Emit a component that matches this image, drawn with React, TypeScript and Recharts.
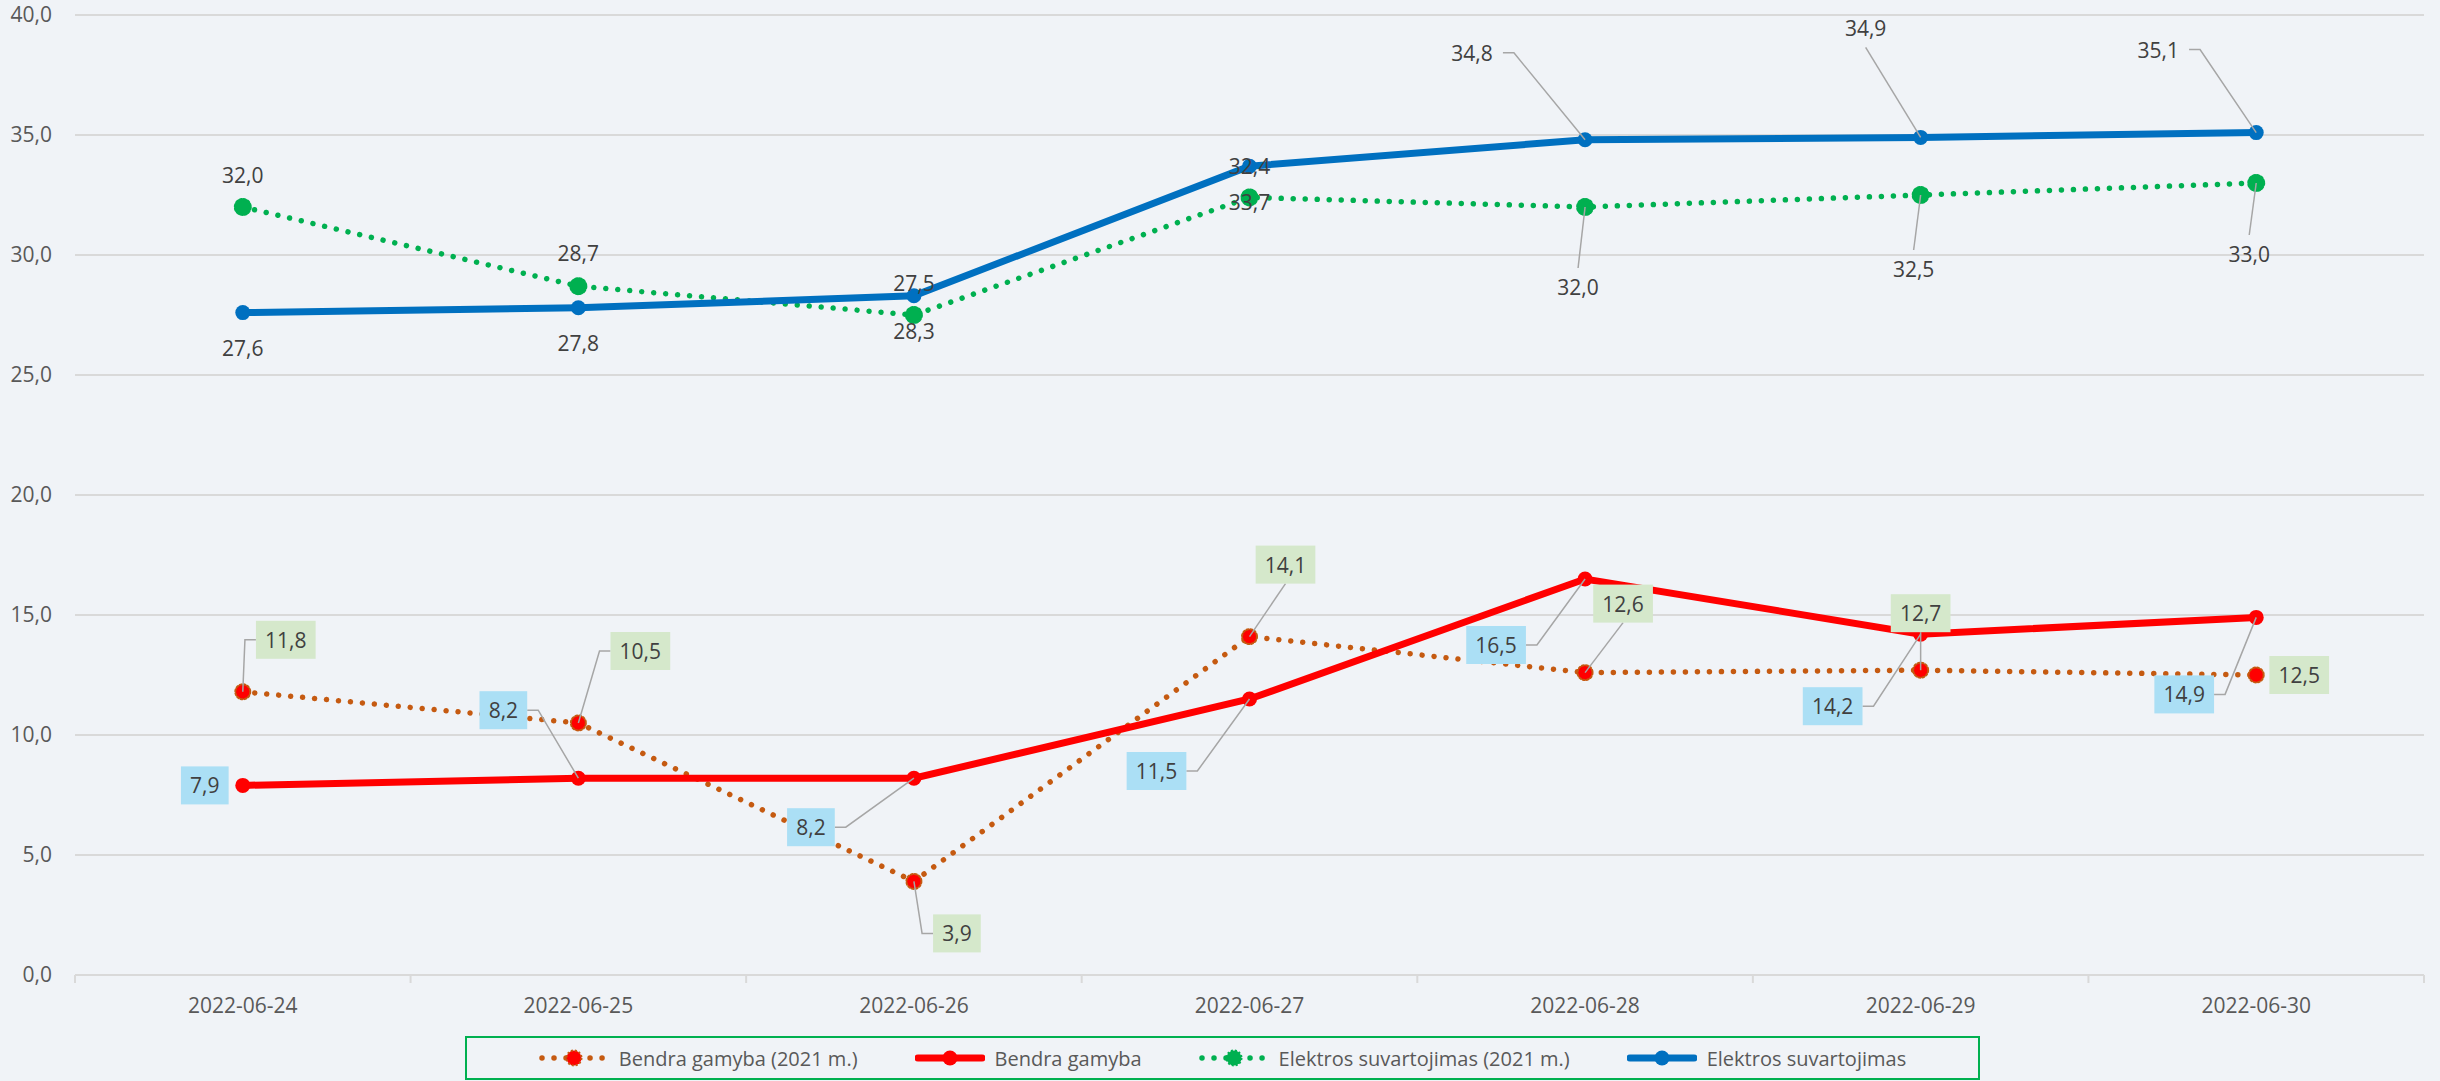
import React from "react"
import { CartesianGrid, Legend, Line, LineChart, XAxis, YAxis } from "recharts"

const dates = ["2022-06-24", "2022-06-25", "2022-06-26", "2022-06-27", "2022-06-28", "2022-06-29", "2022-06-30"]
const bendra2021 = [11.8, 10.5, 3.9, 14.1, 12.6, 12.7, 12.5]
const bendra = [7.9, 8.2, 8.2, 11.5, 16.5, 14.2, 14.9]
const elektros2021 = [32.0, 28.7, 27.5, 32.4, 32.0, 32.5, 33.0]
const elektros = [27.6, 27.8, 28.3, 33.7, 34.8, 34.9, 35.1]
const yTicks = [0, 5, 10, 15, 20, 25, 30, 35, 40]

const data = dates.map((d, i) => ({
  i,
  date: d,
  bendra2021: bendra2021[i],
  bendra: bendra[i],
  elektros2021: elektros2021[i],
  elektros: elektros[i],
}))

// boundaries between days get a small tick, centers get the date
const xTicks = [-0.5, ...dates.flatMap((_, i) => [i, i + 0.5])]

const FONT = "'Open Sans', sans-serif"
const BG = "#f0f3f7"
const LEADER = "#a6a6a6"

const fmt = (v: number) => v.toFixed(1).replace(".", ",")

// label placement: [dx, dy, leader]  n = none, h = stub + diagonal, v = straight from edge
type Place = [number, number, "n" | "h" | "v"]

const placeBendra2021: Place[] = [[43, -52, "h"], [62, -72, "h"], [43, 52, "h"], [36, -72, "v"], [38, -69, "v"], [0, -57, "v"], [43, 0, "n"]]
const placeBendra: Place[] = [[-38, 0, "n"], [-75, -68, "h"], [-103, 49, "h"], [-93, 72, "h"], [-89, 66, "h"], [-88, 72, "h"], [-72, 77, "h"]]
const placeElektros2021: Place[] = [[0, -32, "n"], [0, -33, "n"], [0, -32, "n"], [0, -31, "n"], [-7, 80, "v"], [-7, 74, "v"], [-7, 71, "v"]]
const placeElektros: Place[] = [[0, 35, "n"], [0, 35, "n"], [0, 35, "n"], [0, 36, "n"], [-113, -87, "h"], [-55, -109, "v"], [-98, -83, "h"]]

function textWidth(s: string) {
  let w = 0
  for (const c of s) w += c === "," ? 5.7 : 12
  return w
}

function makeLabel(places: Place[], values: number[], box?: string) {
  return (props: any) => {
    const x = props.x ?? props.viewBox?.x
    const y = props.y ?? props.viewBox?.y
    let idx = props.index
    if (idx === undefined) idx = values.indexOf(props.value)
    const p = places[idx]
    if (!p || x === undefined || y === undefined) return null
    const text = fmt(Number(props.value))
    const tw = textWidth(text)
    const w = box ? tw + 18 : tw + 4
    const h = box ? 38 : 24
    const cx = x + p[0]
    const cy = y + p[1]
    let d: string | null = null
    if (p[2] === "h") {
      const side = p[0] < 0 ? 1 : -1
      const ex = cx + side * (w / 2 + (box ? 0 : 8))
      const sx = ex + side * 11
      d = `M${ex},${cy}L${sx},${cy}L${x},${y}`
    } else if (p[2] === "v") {
      const s = p[1] < 0 ? 1 : -1
      const ey = cy + s * (h / 2 + (box ? 0 : 7))
      d = `M${cx},${ey}L${x},${y}`
    }
    return (
      <g>
        {d && <path d={d} stroke={LEADER} strokeWidth={1.5} fill="none" />}
        {box && <rect x={cx - w / 2} y={cy - h / 2} width={w} height={h} fill={box} />}
        <text x={cx} y={cy} textAnchor="middle" dominantBaseline="central" fontSize={21} fontFamily={FONT} fill="#404040">
          {text}
        </text>
      </g>
    )
  }
}

function XTick(props: any) {
  const { x, y, payload } = props
  const v = payload.value
  if (Number.isInteger(v)) {
    return (
      <text x={x} y={y + 38} textAnchor="middle" fontSize={21} fontFamily={FONT} fill="#595959">
        {dates[v]}
      </text>
    )
  }
  return <line x1={x} x2={x} y1={y} y2={y + 8} stroke="#d9d9d9" strokeWidth={2} />
}

const series = [
  { name: "Bendra gamyba (2021 m.)", color: "#c55a11", dotFill: "#ff0000", dotted: true },
  { name: "Bendra gamyba", color: "#ff0000", dotFill: "#ff0000", dotted: false },
  { name: "Elektros suvartojimas (2021 m.)", color: "#00b050", dotFill: "#00b050", dotted: true },
  { name: "Elektros suvartojimas", color: "#0070c0", dotFill: "#0070c0", dotted: false },
]

function LegendBox() {
  return (
    <div
      style={{
        marginLeft: 465,
        width: 1515,
        height: 44,
        boxSizing: "border-box",
        border: "2px solid #00b050",
        display: "flex",
        alignItems: "center",
        justifyContent: "center",
        gap: 57,
        fontFamily: FONT,
        fontSize: 20,
        color: "#595959",
      }}
    >
      {series.map((s) => (
        <div key={s.name} style={{ display: "flex", alignItems: "center", gap: 10 }}>
          <svg width={70} height={20}>
            <line
              x1={3}
              x2={67}
              y1={10}
              y2={10}
              stroke={s.color}
              strokeWidth={s.dotted ? 5.5 : 7}
              strokeLinecap="round"
              strokeDasharray={s.dotted ? "0.01 12" : undefined}
            />
            <circle cx={35} cy={10} r={7.5} fill={s.dotFill} stroke={s.color} strokeWidth={s.dotted ? 2 : 0} strokeDasharray={s.dotted ? "2 2" : undefined} />
          </svg>
          <span>{s.name}</span>
        </div>
      ))}
    </div>
  )
}

export default function App() {
  return (
    <div style={{ position: "absolute", left: 0, top: 0, width: 2440, height: 1081, background: BG }}>
      <LineChart width={2440} height={1081} data={data} margin={{ top: 15, right: 16, bottom: 1, left: 0 }}>
        <CartesianGrid vertical={false} stroke="#d9d9d9" strokeWidth={2} />
        <XAxis
          dataKey="i"
          type="number"
          domain={[-0.5, 6.5]}
          ticks={xTicks}
          interval={0}
          height={61}
          tickSize={0}
          tickMargin={0}
          tickLine={false}
          axisLine={{ stroke: "#d9d9d9", strokeWidth: 2 }}
          tick={<XTick />}
        />
        <YAxis
          domain={[0, 40]}
          ticks={yTicks}
          width={75}
          tickSize={0}
          tickMargin={23}
          tickLine={false}
          axisLine={false}
          tickFormatter={fmt}
          tick={{ fontSize: 21, fontFamily: FONT, fill: "#595959" }}
        />
        <Legend verticalAlign="bottom" content={() => <LegendBox />} />
        <Line
          dataKey="bendra2021"
          name="Bendra gamyba (2021 m.)"
          stroke="#c55a11"
          strokeWidth={5.5}
          strokeDasharray="0.01 12"
          strokeLinecap="round"
          dot={{ r: 7.5, fill: "#ff0000", stroke: "#c55a11", strokeWidth: 2, strokeDasharray: "2 2" }}
          activeDot={false}
          isAnimationActive={false}
          label={makeLabel(placeBendra2021, bendra2021, "#d5e8cb")}
        />
        <Line
          dataKey="bendra"
          name="Bendra gamyba"
          stroke="#ff0000"
          strokeWidth={7}
          dot={{ r: 7.5, fill: "#ff0000", stroke: "#ff0000", strokeWidth: 0 }}
          activeDot={false}
          isAnimationActive={false}
          label={makeLabel(placeBendra, bendra, "#abdff5")}
        />
        <Line
          dataKey="elektros2021"
          name="Elektros suvartojimas (2021 m.)"
          stroke="#00b050"
          strokeWidth={5.5}
          strokeDasharray="0.01 12"
          strokeLinecap="round"
          dot={{ r: 7.5, fill: "#00b050", stroke: "#00b050", strokeWidth: 3, strokeDasharray: "2 2" }}
          activeDot={false}
          isAnimationActive={false}
          label={makeLabel(placeElektros2021, elektros2021)}
        />
        <Line
          dataKey="elektros"
          name="Elektros suvartojimas"
          stroke="#0070c0"
          strokeWidth={7}
          dot={{ r: 7.5, fill: "#0070c0", stroke: "#0070c0", strokeWidth: 0 }}
          activeDot={false}
          isAnimationActive={false}
          label={makeLabel(placeElektros, elektros)}
        />
      </LineChart>
    </div>
  )
}
